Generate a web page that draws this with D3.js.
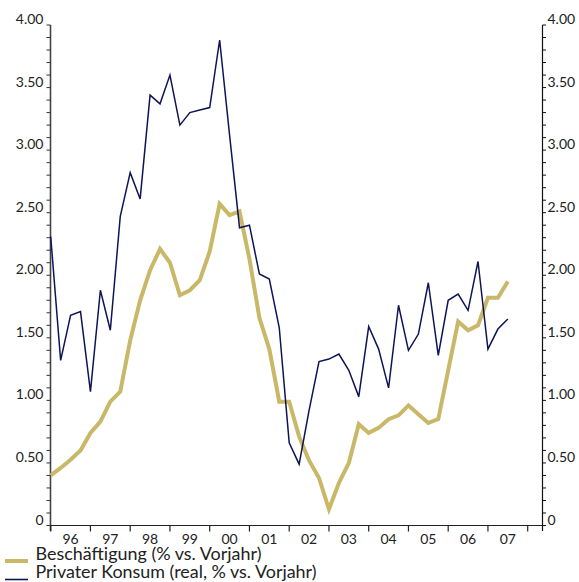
<!DOCTYPE html>
<html><head><meta charset="utf-8">
<script src="https://cdn.jsdelivr.net/npm/d3@7"></script>
<style>body{margin:0;background:#fff}svg{display:block}</style>
</head><body>
<svg id="c" width="579" height="582"></svg>
<script>
const years = ["96","97","98","99","00","01","02","03","04","05","06","07"];
const yTicks = [0,0.5,1,1.5,2,2.5,3,3.5,4];
const yTickLabels = ["0","0.50","1.00","1.50","2.00","2.50","3.00","3.50","4.00"];
const seriesNames = ["Beschäftigung (% vs. Vorjahr)","Privater Konsum (real, % vs. Vorjahr)"];
// quarterly values, 1996 Q1 .. 2007 Q3
const beschaeftigung = [0.40,0.46,0.525,0.60,0.74,0.83,0.99,1.07,1.48,1.80,2.04,2.21,2.10,1.84,1.88,1.96,2.19,2.57,2.48,2.51,2.13,1.66,1.41,0.99,0.99,0.71,0.52,0.38,0.13,0.34,0.50,0.81,0.74,0.78,0.85,0.88,0.96,0.89,0.82,0.85,1.24,1.63,1.56,1.60,1.82,1.82,1.95];
const konsum = [2.31,1.32,1.68,1.71,1.07,1.88,1.56,2.47,2.82,2.61,3.44,3.37,3.60,3.20,3.30,3.32,3.34,3.88,3.12,2.38,2.40,2.01,1.97,1.58,0.66,0.49,0.92,1.31,1.33,1.37,1.24,1.03,1.59,1.41,1.10,1.76,1.40,1.53,1.94,1.36,1.80,1.85,1.72,2.11,1.41,1.57,1.65];

const svg = d3.select("#c");
const font = "Lato, 'Open Sans', sans-serif";
const colBeige = "#c8b868", colBlue = "#0e1456";
const leftX = 50.5, rightX = 542.5, axisBottom = 531;
const x = d3.scaleLinear().domain([0, years.length*4]).range([50.7, 527.7]);
const y = d3.scaleLinear().domain([0,4]).range([525.5, 25]);

// vertical axes lines
svg.append("line").attr("x1",leftX).attr("x2",leftX).attr("y1",y(4)).attr("y2",axisBottom)
  .attr("stroke","#444").attr("stroke-width",1.6);
svg.append("line").attr("x1",rightX).attr("x2",rightX).attr("y1",y(4)).attr("y2",axisBottom)
  .attr("stroke","#111").attr("stroke-width",1.2);
// x axis line
svg.append("line").attr("x1",leftX).attr("x2",rightX).attr("y1",y(0)).attr("y2",y(0))
  .attr("stroke","#222").attr("stroke-width",1.2);

// minor/major y ticks
const minor = d3.range(0, 41).map(i => i/10);
svg.append("g").selectAll("line").data(minor).join("line")
  .attr("x1", leftX-4).attr("x2", leftX).attr("y1", d=>y(d)).attr("y2", d=>y(d))
  .attr("stroke","#333").attr("stroke-width",1);
svg.append("g").selectAll("line").data(minor).join("line")
  .attr("x1", rightX).attr("x2", rightX+3.5).attr("y1", d=>y(d)).attr("y2", d=>y(d))
  .attr("stroke","#111").attr("stroke-width",1);

// y labels
svg.append("g").selectAll("text").data(yTicks).join("text")
  .attr("x", 43.5).attr("y", d=>y(d)-1).attr("text-anchor","end")
  .attr("font-family",font).attr("font-size",14).attr("fill","#222")
  .text((d,i)=>yTickLabels[i]);
svg.append("g").selectAll("text").data(yTicks).join("text")
  .attr("x", 547.5).attr("y", d=>y(d)-1).attr("text-anchor","start")
  .attr("font-family",font).attr("font-size",14).attr("fill","#222")
  .text((d,i)=>yTickLabels[i]);

// x ticks & labels
svg.append("g").selectAll("line").data(d3.range(0, years.length+1)).join("line")
  .attr("x1", d=>x(d*4)).attr("x2", d=>x(d*4)).attr("y1", y(0)).attr("y2", y(0)+6)
  .attr("stroke","#222").attr("stroke-width",1.2);
svg.append("g").selectAll("text").data(years).join("text")
  .attr("x", (d,i)=>x(i*4+2)).attr("y", 544).attr("text-anchor","middle")
  .attr("font-family",font).attr("font-size",14).attr("fill","#222")
  .text(d=>d);

// lines
const line = d3.line().x((d,i)=>x(i)).y(d=>y(d));
svg.append("path").datum(beschaeftigung).attr("d",line).attr("fill","none")
  .attr("stroke",colBeige).attr("stroke-width",4).attr("stroke-linejoin","miter");
svg.append("path").datum(konsum).attr("d",line).attr("fill","none")
  .attr("stroke",colBlue).attr("stroke-width",1.5).attr("stroke-linejoin","miter");

// legend
const leg = [{c:colBeige,w:4,ly:561,ty:560,len:226},{c:colBlue,w:1.6,ly:579.5,ty:578,len:281}];
leg.forEach((l,i)=>{
  svg.append("line").attr("x1",5).attr("x2",28).attr("y1",l.ly).attr("y2",l.ly)
    .attr("stroke",l.c).attr("stroke-width",l.w);
  svg.append("text").attr("x",35.5).attr("y",l.ty)
    .attr("font-family",font).attr("font-size",17).attr("fill","#222")
    .attr("textLength",l.len).attr("lengthAdjust","spacingAndGlyphs")
    .text(seriesNames[i]);
});
</script>
</body></html>
